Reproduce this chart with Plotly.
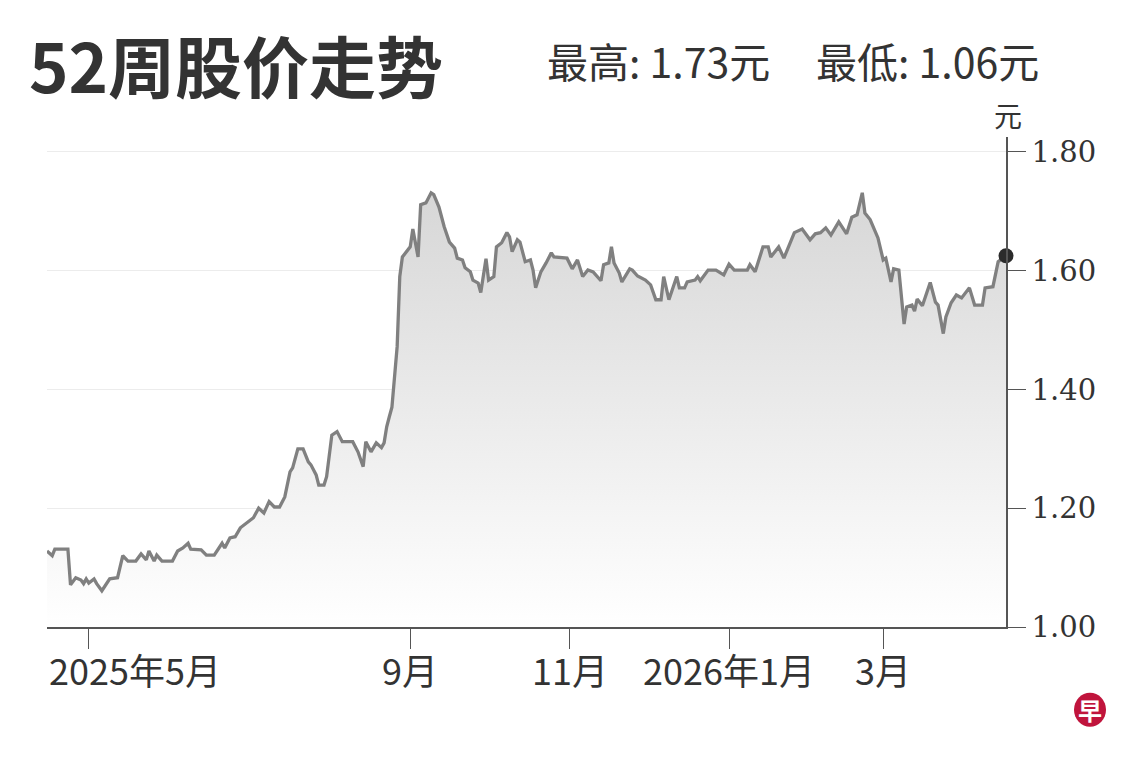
import plotly.graph_objects as go

# 52-week closing prices
dates = [
    "2025-04-15", "2025-04-17", "2025-04-18", "2025-04-23", "2025-04-24", "2025-04-26",
    "2025-04-28", "2025-04-29", "2025-04-30", "2025-05-01", "2025-05-03", "2025-05-04",
    "2025-05-06", "2025-05-09", "2025-05-12", "2025-05-14", "2025-05-16", "2025-05-19",
    "2025-05-21", "2025-05-23", "2025-05-24", "2025-05-26", "2025-05-27", "2025-05-29",
    "2025-06-02", "2025-06-04", "2025-06-06", "2025-06-08", "2025-06-09", "2025-06-13",
    "2025-06-15", "2025-06-18", "2025-06-21", "2025-06-22", "2025-06-24", "2025-06-26",
    "2025-06-28", "2025-07-01", "2025-07-03", "2025-07-05", "2025-07-07", "2025-07-09",
    "2025-07-11", "2025-07-13", "2025-07-15", "2025-07-17", "2025-07-18", "2025-07-20",
    "2025-07-22", "2025-07-24", "2025-07-25", "2025-07-27", "2025-07-28", "2025-07-30",
    "2025-07-31", "2025-08-02", "2025-08-04", "2025-08-06", "2025-08-10", "2025-08-12",
    "2025-08-14", "2025-08-15", "2025-08-17", "2025-08-19", "2025-08-21", "2025-08-22",
    "2025-08-23", "2025-08-24", "2025-08-25", "2025-08-27", "2025-08-28", "2025-08-29",
    "2025-08-31", "2025-09-01", "2025-09-02", "2025-09-04", "2025-09-05", "2025-09-07",
    "2025-09-09", "2025-09-10", "2025-09-12", "2025-09-14", "2025-09-16", "2025-09-18",
    "2025-09-19", "2025-09-21", "2025-09-22", "2025-09-24", "2025-09-25", "2025-09-27",
    "2025-09-28", "2025-09-30", "2025-10-01", "2025-10-03", "2025-10-04", "2025-10-06",
    "2025-10-08", "2025-10-09", "2025-10-10", "2025-10-12", "2025-10-13", "2025-10-15",
    "2025-10-17", "2025-10-18", "2025-10-19", "2025-10-21", "2025-10-23", "2025-10-25",
    "2025-10-26", "2025-10-31", "2025-11-02", "2025-11-04", "2025-11-06", "2025-11-08",
    "2025-11-10", "2025-11-13", "2025-11-14", "2025-11-16", "2025-11-17", "2025-11-18",
    "2025-11-20", "2025-11-21", "2025-11-24", "2025-11-25", "2025-11-27", "2025-11-30",
    "2025-12-02", "2025-12-04", "2025-12-06", "2025-12-07", "2025-12-09", "2025-12-12",
    "2025-12-13", "2025-12-15", "2025-12-16", "2025-12-19", "2025-12-20", "2025-12-21",
    "2025-12-24", "2025-12-27", "2025-12-30", "2026-01-01", "2026-01-03", "2026-01-08",
    "2026-01-09", "2026-01-11", "2026-01-14", "2026-01-16", "2026-01-17", "2026-01-20",
    "2026-01-22", "2026-01-24", "2026-01-26", "2026-01-29", "2026-02-01", "2026-02-03",
    "2026-02-05", "2026-02-07", "2026-02-09", "2026-02-12", "2026-02-15", "2026-02-17",
    "2026-02-19", "2026-02-21", "2026-02-22", "2026-02-24", "2026-02-26", "2026-02-27",
    "2026-03-01", "2026-03-02", "2026-03-04", "2026-03-05", "2026-03-07", "2026-03-09",
    "2026-03-10", "2026-03-12", "2026-03-13", "2026-03-14", "2026-03-16", "2026-03-19",
    "2026-03-21", "2026-03-22", "2026-03-24", "2026-03-25", "2026-03-27", "2026-03-29",
    "2026-03-31", "2026-04-03", "2026-04-05", "2026-04-08", "2026-04-09", "2026-04-12",
    "2026-04-14", "2026-04-17",
]
prices = [
    1.128, 1.120, 1.131, 1.131, 1.071, 1.083,
    1.079, 1.073, 1.081, 1.074, 1.081, 1.073,
    1.061, 1.081, 1.083, 1.120, 1.111, 1.111,
    1.123, 1.113, 1.128, 1.111, 1.121, 1.111,
    1.111, 1.128, 1.133, 1.141, 1.131, 1.130,
    1.121, 1.121, 1.141, 1.133, 1.150, 1.152,
    1.167, 1.177, 1.184, 1.200, 1.192, 1.211,
    1.202, 1.202, 1.219, 1.261, 1.268, 1.300,
    1.300, 1.278, 1.273, 1.256, 1.239, 1.239,
    1.253, 1.323, 1.329, 1.312, 1.312, 1.295,
    1.270, 1.312, 1.295, 1.310, 1.302, 1.310,
    1.337, 1.354, 1.370, 1.472, 1.590, 1.623,
    1.635, 1.640, 1.670, 1.623, 1.711, 1.714,
    1.731, 1.728, 1.707, 1.674, 1.648, 1.638,
    1.621, 1.618, 1.605, 1.598, 1.584, 1.579,
    1.563, 1.620, 1.584, 1.590, 1.640, 1.647,
    1.664, 1.657, 1.632, 1.652, 1.648, 1.615,
    1.618, 1.601, 1.571, 1.598, 1.613, 1.630,
    1.623, 1.621, 1.603, 1.618, 1.590, 1.601,
    1.598, 1.583, 1.610, 1.613, 1.640, 1.613,
    1.596, 1.581, 1.603, 1.601, 1.591, 1.584,
    1.576, 1.551, 1.551, 1.590, 1.551, 1.590,
    1.571, 1.571, 1.581, 1.584, 1.590, 1.583,
    1.601, 1.601, 1.593, 1.611, 1.601, 1.601,
    1.610, 1.598, 1.640, 1.640, 1.623, 1.640,
    1.621, 1.643, 1.664, 1.670, 1.652, 1.662,
    1.664, 1.672, 1.660, 1.682, 1.662, 1.690,
    1.694, 1.731, 1.697, 1.686, 1.666, 1.655,
    1.618, 1.621, 1.581, 1.603, 1.601, 1.510,
    1.539, 1.542, 1.532, 1.552, 1.541, 1.580,
    1.547, 1.542, 1.494, 1.522, 1.546, 1.559,
    1.554, 1.571, 1.542, 1.542, 1.571, 1.573,
    1.615, 1.625,
]

month_ticks = ["2025-05-01", "2025-09-01", "2025-11-01", "2026-01-01", "2026-03-01"]
month_labels = ["2025年5月", "9月", "11月", "2026年1月", "3月"]
price_ticks = [1.00, 1.20, 1.40, 1.60, 1.80]

high_text = "最高: 1.73元"
low_text = "最低: 1.06元"

axis_col = "#555555"
text_col = "#333333"
cjk = "Noto Sans CJK SC"

fig = go.Figure()

# line with grey gradient fill underneath
fig.add_trace(go.Scatter(
    x=dates, y=prices, mode="lines",
    line=dict(color="#808080", width=3.3),
    fill="tozeroy",
    fillgradient=dict(type="vertical", start=1.0, stop=1.8,
                      colorscale=[[0, "#ffffff"], [1, "#d3d3d3"]]),
    hoverinfo="skip", showlegend=False,
))

# last price marker
fig.add_trace(go.Scatter(
    x=[dates[-1]], y=[prices[-1]], mode="markers",
    marker=dict(color="#2b2b2b", size=15),
    cliponaxis=False, hoverinfo="skip", showlegend=False,
))

fig.update_xaxes(
    range=[dates[0], dates[-1]],
    tickvals=month_ticks, showticklabels=False,
    showgrid=False, zeroline=False,
    showline=True, linecolor=axis_col, linewidth=1.5,
    ticks="outside", ticklen=20, tickwidth=1, tickcolor=axis_col,
)
fig.update_yaxes(
    side="right", range=[1.0, 1.825],
    tickvals=price_ticks, tickformat=".2f",
    showgrid=True, gridcolor="#ececec", gridwidth=1, zeroline=False,
    showline=True, linecolor=axis_col, linewidth=1.5,
    ticks="outside", ticklen=18, tickwidth=1.2, tickcolor=axis_col,
    tickfont=dict(family="DejaVu Serif", size=29, color=text_col),
)

# month labels: first one is pushed inside the plot's left edge
for i, (tv, lab) in enumerate(zip(month_ticks, month_labels)):
    first = i == 0
    fig.add_annotation(text=lab, x=dates[0] if first else tv, xref="x",
                       y=-0.085, yref="paper",
                       xanchor="left" if first else "center", yanchor="middle",
                       showarrow=False,
                       font=dict(family=cjk, size=36, color=text_col))

# title + high / low
fig.add_annotation(text="<b>52周股价走势</b>", xref="paper", yref="paper",
                   x=-0.021, y=1.151, xanchor="left", yanchor="middle",
                   showarrow=False, font=dict(family=cjk, size=67, color=text_col))
fig.add_annotation(text=high_text, xref="paper", yref="paper",
                   x=0.519, y=1.157, xanchor="left", yanchor="middle",
                   showarrow=False, font=dict(family=cjk, size=41, color=text_col))
fig.add_annotation(text=low_text, xref="paper", yref="paper",
                   x=0.800, y=1.157, xanchor="left", yanchor="middle",
                   showarrow=False, font=dict(family=cjk, size=41, color=text_col))
# unit label above the axis
fig.add_annotation(text="元", xref="paper", yref="paper",
                   x=1.002, y=1.045, xanchor="center", yanchor="middle",
                   showarrow=False, font=dict(family=cjk, size=28, color=text_col))

# small red logo bottom right
fig.add_shape(type="circle", xref="paper", yref="paper",
              xsizemode="pixel", ysizemode="pixel",
              xanchor=1.0876, yanchor=-0.169,
              x0=-16, x1=16, y0=-17, y1=17,
              fillcolor="#c0143c", line=dict(width=0))
fig.add_annotation(text="<b>早</b>", xref="paper", yref="paper",
                   x=1.0876, y=-0.169, xanchor="center", yanchor="middle",
                   showarrow=False, font=dict(family=cjk, size=24, color="white"))

# page body adds 8px around the figure, so the figure is 16px smaller
fig.update_layout(
    width=1124, height=744, autosize=False,
    margin=dict(l=39, r=126, t=129, b=125),
    paper_bgcolor="white", plot_bgcolor="white",
)

fig.write_html("out.html")
